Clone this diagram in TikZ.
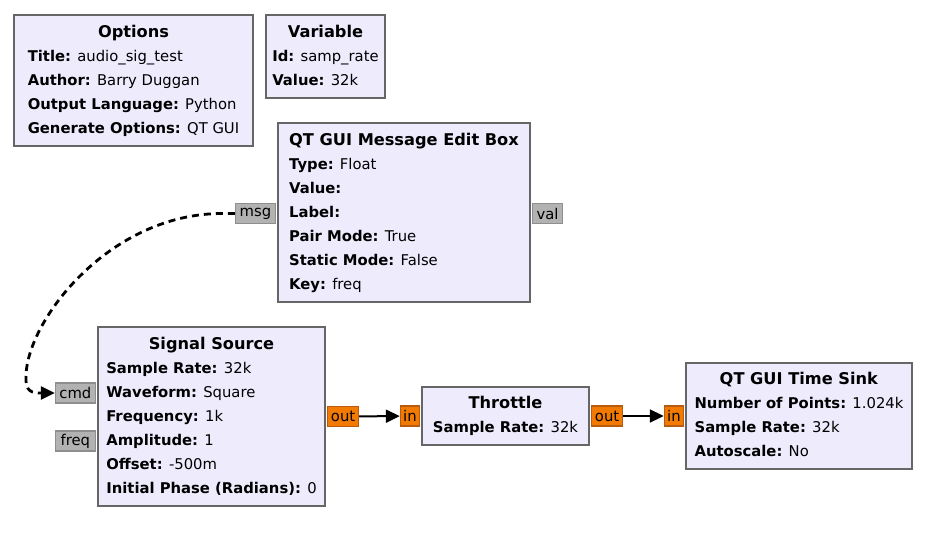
\documentclass[tikz,border=0pt]{standalone}
\usepackage{fontspec}
\setmainfont{DejaVu Sans}
\usepackage{tikz}
\usetikzlibrary{arrows.meta, positioning, calc}
\definecolor{blockfill}{HTML}{EEEBFD}
\definecolor{blockline}{HTML}{666666}
\definecolor{msgfill}{HTML}{B2B2B2}
\definecolor{msgline}{HTML}{8E8E8E}
\definecolor{floatfill}{HTML}{F27A00}
\definecolor{floatline}{HTML}{B85A10}
\newcommand{\btitle}[1]{\multicolumn{1}{@{}c@{}}{\fontsize{16.2}{24}\selectfont\textbf{#1}}}
\newcommand{\prm}[2]{\textbf{#1:} #2}

\begin{document}
\begin{tikzpicture}[
    x=1pt, y=-1pt,
    block/.style={rectangle, draw=blockline, fill=blockfill, line width=2pt,
                  inner sep=0pt, font=\fontsize{14.8}{24}\selectfont},
    msgport/.style={rectangle, draw=msgline, fill=msgfill, line width=1.2pt,
                    minimum height=20pt, inner xsep=2pt, inner ysep=0pt,
                    font=\fontsize{14.8}{16}\selectfont},
    floatport/.style={msgport, draw=floatline, fill=floatfill},
    conn/.style={-{Triangle[length=14pt, width=13pt]}, line width=2pt, black},
    msgconn/.style={conn, dash pattern=on 7pt off 5pt, line width=2.8pt}
]
    \useasboundingbox (0,0) rectangle (940,541);

    % Blocks
    \node[block, minimum width=239pt, minimum height=131pt] (opts) at (133.5,80.5)
        {\begin{tabular}{@{}l@{}}\btitle{Options}\\
         \prm{Title}{audio\_sig\_test}\\
         \prm{Author}{Barry Duggan}\\
         \prm{Output Language}{Python}\\
         \prm{Generate Options}{QT GUI}\end{tabular}};
    \node[block, minimum width=119pt, minimum height=83pt] (var) at (325.5,56.5)
        {\begin{tabular}{@{}l@{}}\btitle{Variable}\\
         \prm{Id}{samp\_rate}\\
         \prm{Value}{32k}\end{tabular}};
    \node[block, minimum width=252pt, minimum height=179pt] (edit) at (404,212.5)
        {\begin{tabular}{@{}l@{}}\btitle{QT GUI Message Edit Box}\\
         \prm{Type}{Float}\\
         \prm{Value}{}\\
         \prm{Label}{}\\
         \prm{Pair Mode}{True}\\
         \prm{Static Mode}{False}\\
         \prm{Key}{freq}\end{tabular}};
    \node[block, minimum width=227pt, minimum height=179pt] (sig) at (211.5,416.5)
        {\begin{tabular}{@{}l@{}}\btitle{Signal Source}\\
         \prm{Sample Rate}{32k}\\
         \prm{Waveform}{Square}\\
         \prm{Frequency}{1k}\\
         \prm{Amplitude}{1}\\
         \prm{Offset}{-500m}\\
         \prm{Initial Phase (Radians)}{0}\end{tabular}};
    \node[block, minimum width=167pt, minimum height=58pt] (thr) at (505.5,416)
        {\begin{tabular}{@{}l@{}}\btitle{Throttle}\\
         \prm{Sample Rate}{32k}\end{tabular}};
    \node[block, minimum width=226pt, minimum height=106pt] (sink) at (799,416)
        {\begin{tabular}{@{}l@{}}\btitle{QT GUI Time Sink}\\
         \prm{Number of Points}{1.024k}\\
         \prm{Sample Rate}{32k}\\
         \prm{Autoscale}{No}\end{tabular}};

    % Ports
    \node[msgport, minimum width=40pt, anchor=east] (msg) at ([xshift=-1pt, yshift=-1pt]edit.west) {msg};
    \node[msgport, minimum width=30pt, anchor=west] (val) at ([xshift=1pt, yshift=-1pt]edit.east) {val};
    \node[msgport, minimum width=40pt, anchor=east] (cmd) at ([xshift=-1pt, yshift=23.5pt]sig.west) {cmd};
    \node[msgport, minimum width=40pt, anchor=east] (freq) at ([xshift=-1pt, yshift=-24.5pt]sig.west) {freq};
    \node[floatport, minimum width=31pt, anchor=west] (sigout) at ([xshift=1pt]sig.east) {out};
    \node[floatport, minimum width=19pt, anchor=east] (thrin) at ([xshift=-1pt]thr.west) {in};
    \node[floatport, minimum width=31pt, anchor=west] (throut) at ([xshift=1pt]thr.east) {out};
    \node[floatport, minimum width=19pt, anchor=east] (sinkin) at ([xshift=-1pt]sink.west) {in};

    % Connections
    \draw[conn] (sigout) -- (thrin);
    \draw[conn] (throut) -- (sinkin);
    \draw[msgconn] (msg.west) -- ++(-12,0)
        .. controls (110,213) and (27,320) .. (26,376)
        .. controls (25,392) and (32,393) .. (cmd.west);
\end{tikzpicture}
\end{document}
